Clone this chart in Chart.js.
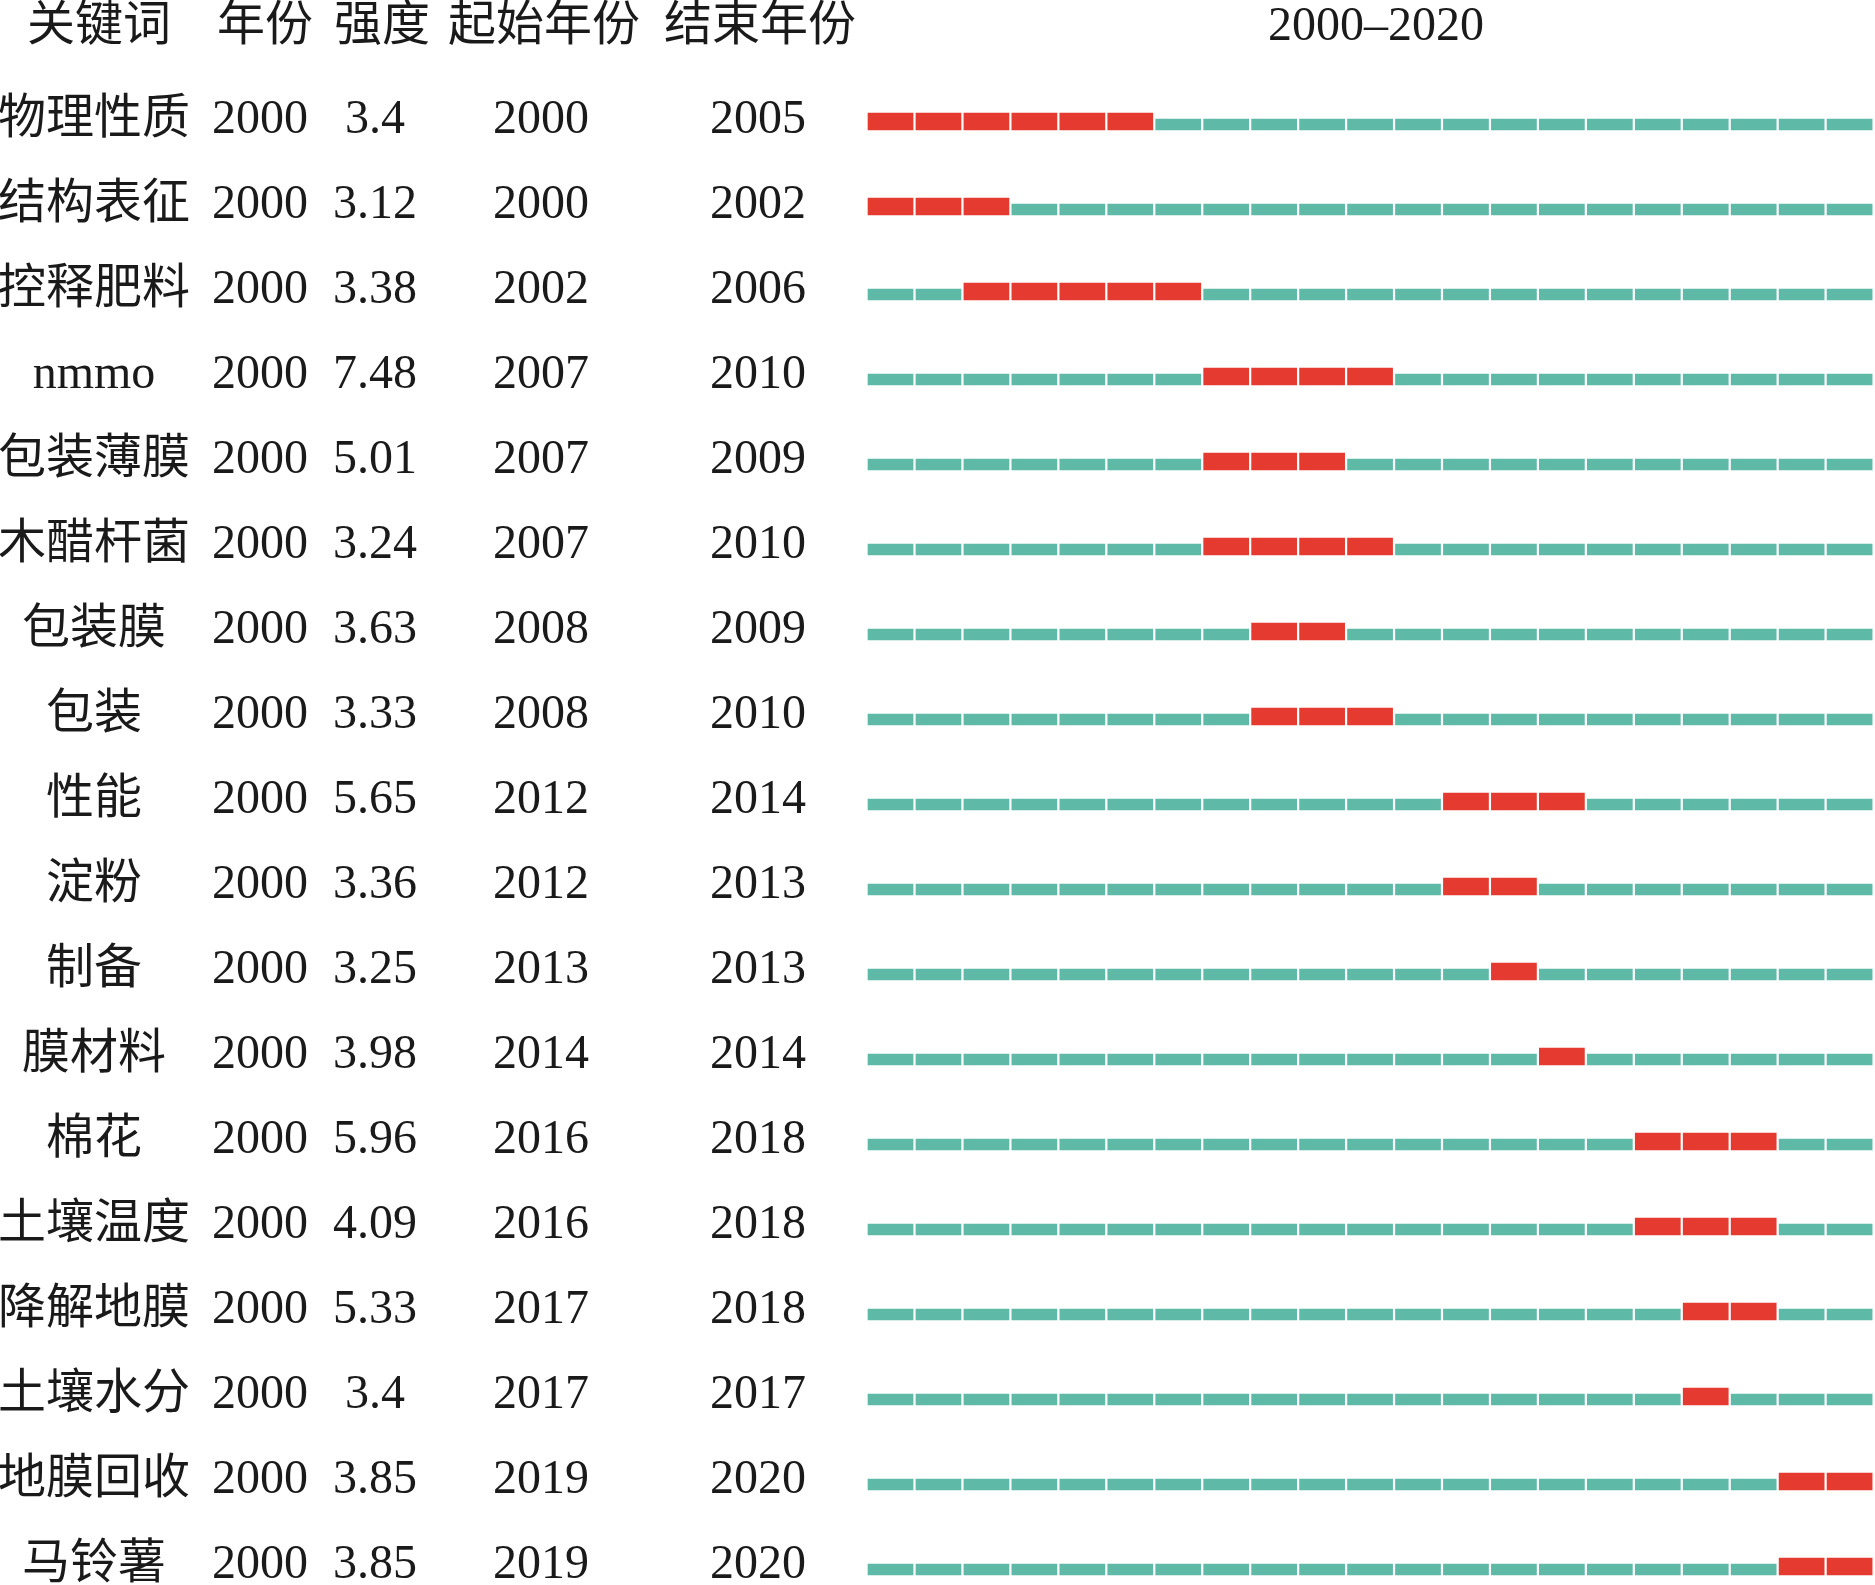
<!DOCTYPE html>
<html>
<head>
<meta charset="utf-8">
<script src="https://cdn.jsdelivr.net/npm/chart.js@4/dist/chart.umd.min.js"></script>
<style>
html,body{margin:0;padding:0;background:#fff;}
#wrap{width:1875px;height:1585px;}
</style>
</head>
<body>
<div id="wrap"><canvas id="c" width="1875" height="1585"></canvas></div>
<script>
const keywords = ['物理性质','结构表征','控释肥料','nmmo','包装薄膜','木醋杆菌','包装膜','包装','性能','淀粉','制备','膜材料','棉花','土壤温度','降解地膜','土壤水分','地膜回收','马铃薯'];
const years = [2000,2000,2000,2000,2000,2000,2000,2000,2000,2000,2000,2000,2000,2000,2000,2000,2000,2000];
const strengths = ['3.4','3.12','3.38','7.48','5.01','3.24','3.63','3.33','5.65','3.36','3.25','3.98','5.96','4.09','5.33','3.4','3.85','3.85'];
const beginYears = [2000,2000,2002,2007,2007,2007,2008,2008,2012,2012,2013,2014,2016,2016,2017,2017,2019,2019];
const endYears = [2005,2002,2006,2010,2009,2010,2009,2010,2014,2013,2013,2014,2018,2018,2018,2017,2020,2020];
const headers = ['关键词','年份','强度','起始年份','结束年份'];
const rangeStart = 2000, rangeEnd = 2020;
const rangeLabel = '2000–2020';

const GAP = 0.06;
const tealData = [], redData = [];
keywords.forEach((k, i) => {
  for (let y = rangeStart; y <= rangeEnd; y++) {
    const seg = {x: [y, y + 1 - GAP], y: k};
    if (y >= beginYears[i] && y <= endYears[i]) redData.push(seg); else tealData.push(seg);
  }
});

const FONT = "48px 'Liberation Serif', 'Times New Roman', 'Noto Sans CJK SC', serif";
const TEXT = '#1a1a1a';
const headerX = [99, 265, 382, 544, 760];
const colX = [94, 260, 375, 541, 758];

const textPlugin = {
  id: 'tableText',
  afterDatasetsUpdate(chart) {
    const meta = chart.getDatasetMeta(1);
    meta.data.forEach(el => { el.y -= 3; });
  },
  afterDraw(chart) {
    const ctx = chart.ctx;
    const ys = chart.scales.y;
    const area = chart.chartArea;
    ctx.save();
    ctx.font = FONT;
    ctx.fillStyle = TEXT;
    ctx.textAlign = 'center';
    ctx.textBaseline = 'alphabetic';
    headers.forEach((h, j) => ctx.fillText(h, headerX[j], 40));
    ctx.fillText(rangeLabel, 1376, 40);
    keywords.forEach((k, i) => {
      const base = ys.getPixelForValue(i) + 8.5;
      const cols = [k, String(years[i]), strengths[i], String(beginYears[i]), String(endYears[i])];
      cols.forEach((t, j) => ctx.fillText(t, colX[j], base));
    });
    ctx.restore();
  }
};

new Chart(document.getElementById('c'), {
  type: 'bar',
  data: {
    labels: keywords,
    datasets: [
      {label: 'normal', data: tealData, backgroundColor: '#5fb9a7', barThickness: 11, grouped: false, borderWidth: 0, clip: false},
      {label: 'burst', data: redData, backgroundColor: '#e53a30', barThickness: 17, grouped: false, borderWidth: 0, clip: false}
    ]
  },
  options: {
    indexAxis: 'y',
    responsive: false,
    devicePixelRatio: 1,
    animation: false,
    layout: {padding: {left: 868, right: -3, top: 124.5, bottom: 15.5}},
    plugins: {legend: {display: false}, tooltip: {enabled: false}, title: {display: false}},
    scales: {
      x: {type: 'linear', min: rangeStart, max: rangeEnd + 1, display: false},
      y: {type: 'category', offset: false, display: false}
    }
  },
  plugins: [textPlugin]
});
</script>
</body>
</html>
